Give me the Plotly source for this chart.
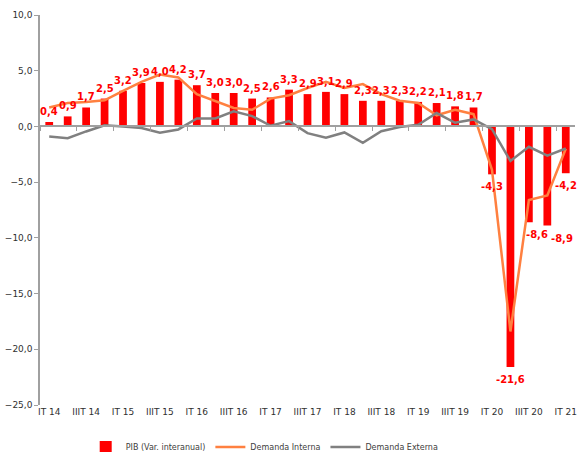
import plotly.graph_objects as go

quarters = []
for yr in range(14, 22):
    for q in ["IT", "IIT", "IIIT", "IVT"]:
        quarters.append(f"{q} {yr}")
quarters = quarters[:29]

pib = [0.4, 0.9, 1.7, 2.5, 3.2, 3.9, 4.0, 4.2, 3.7, 3.0, 3.0, 2.5, 2.6, 3.3,
       2.9, 3.1, 2.9, 2.3, 2.3, 2.3, 2.2, 2.1, 1.8, 1.7, -4.3, -21.6, -8.6, -8.9, -4.2]
demanda_interna = [1.7, 2.1, 2.2, 2.35, 3.2, 4.0, 4.65, 4.4, 2.9, 2.3, 1.65, 1.5, 2.5, 2.8,
                   3.45, 4.0, 3.45, 3.8, 2.9, 2.3, 2.1, 1.0, 1.5, 1.1, -3.9, -18.4, -6.6, -6.2, -2.0]
demanda_externa = [-0.9, -1.05, -0.45, 0.1, 0.0, -0.15, -0.57, -0.27, 0.72, 0.72, 1.35, 0.93, 0.06, 0.48,
                   -0.6, -1.02, -0.54, -1.47, -0.43, -0.06, 0.15, 1.2, 0.33, 0.63, -0.25, -3.1, -1.83, -2.63, -1.98]

title_text = "I. 2014 - I. 2021"
y_ticks = [10, 5, 0, -5, -10, -15, -20, -25]

# label nudges (style only), keyed by quarter
label_xshift = {"IIIT 20": 8, "IVT 20": 15}

fig = go.Figure()
fig.add_trace(go.Bar(
    x=quarters, y=pib, name="PIB (Var. interanual)",
    marker=dict(color="#FF0000", line=dict(width=0)),
))
fig.add_trace(go.Scatter(
    x=quarters, y=demanda_interna, name="Demanda Interna", mode="lines",
    line=dict(color="#FF8040", width=2.5), cliponaxis=False,
))
fig.add_trace(go.Scatter(
    x=quarters, y=demanda_externa, name="Demanda Externa", mode="lines",
    line=dict(color="#808080", width=2.5), cliponaxis=False,
))

annotations = []
for q, v in zip(quarters, pib):
    annotations.append(dict(
        x=q, y=v, xref="x", yref="y", text=f"<b>{v:.1f}</b>".replace(".", ","),
        showarrow=False, xanchor="center",
        yanchor="bottom" if v >= 0 else "top",
        yshift=3 if v >= 0 else -5, xshift=label_xshift.get(q, 0),
        font=dict(family="DejaVu Sans", size=10, color="#FF0000")))
annotations.append(dict(text="<b>" + title_text + "</b>", xref="paper", yref="paper",
                        x=0.49, y=1.051, xanchor="center", yanchor="middle", showarrow=False,
                        font=dict(family="DejaVu Sans", size=13, color="#202020")))

n = len(quarters)
fig.update_layout(
    width=578, height=452,
    margin=dict(l=40, r=3, t=15, b=47, autoexpand=False),
    paper_bgcolor="white", plot_bgcolor="white",
    separators=",.",
    bargap=0.58,
    showlegend=True,
    legend=dict(orientation="h", x=0.42, xanchor="center", y=-42 / 390, yanchor="middle",
                font=dict(family="DejaVu Sans", size=8, color="#404040"),
                traceorder="normal", itemwidth=30, tracegroupgap=0),
    xaxis=dict(type="category", range=[-0.5, n - 0.5], tickmode="array",
               tickvals=quarters[::2], ticktext=quarters[::2],
               showline=False, ticks="", showgrid=False, zeroline=False,
               tickfont=dict(family="DejaVu Sans", size=9, color="#303030")),
    xaxis2=dict(overlaying="x", anchor="free", position=25 / 35, side="bottom",
                range=[-0.5, n - 0.5], tickmode="array",
                tickvals=[i - 0.5 for i in range(0, n + 1, 2)],
                showticklabels=False, ticks="outside", ticklen=4, tickcolor="#A0A0A0",
                showline=True, linecolor="#A0A0A0", linewidth=1.5, showgrid=False, zeroline=False),
    yaxis=dict(range=[-25, 10], tickmode="array", tickvals=y_ticks, tickformat=".1f",
               showline=True, linecolor="#A0A0A0", linewidth=1.5,
               ticks="outside", ticklen=4, tickcolor="#A0A0A0",
               showgrid=False, zeroline=False,
               tickfont=dict(family="DejaVu Sans", size=9, color="#303030")),
    annotations=annotations,
)
# invisible trace so the zero-line axis (xaxis2) renders
fig.add_trace(go.Scatter(x=[0], y=[0], xaxis="x2", mode="markers",
                         marker=dict(opacity=0), showlegend=False, hoverinfo="skip"))

fig.write_html("out.html", config={"displayModeBar": False},
               post_script="document.body.style.margin='0';")
